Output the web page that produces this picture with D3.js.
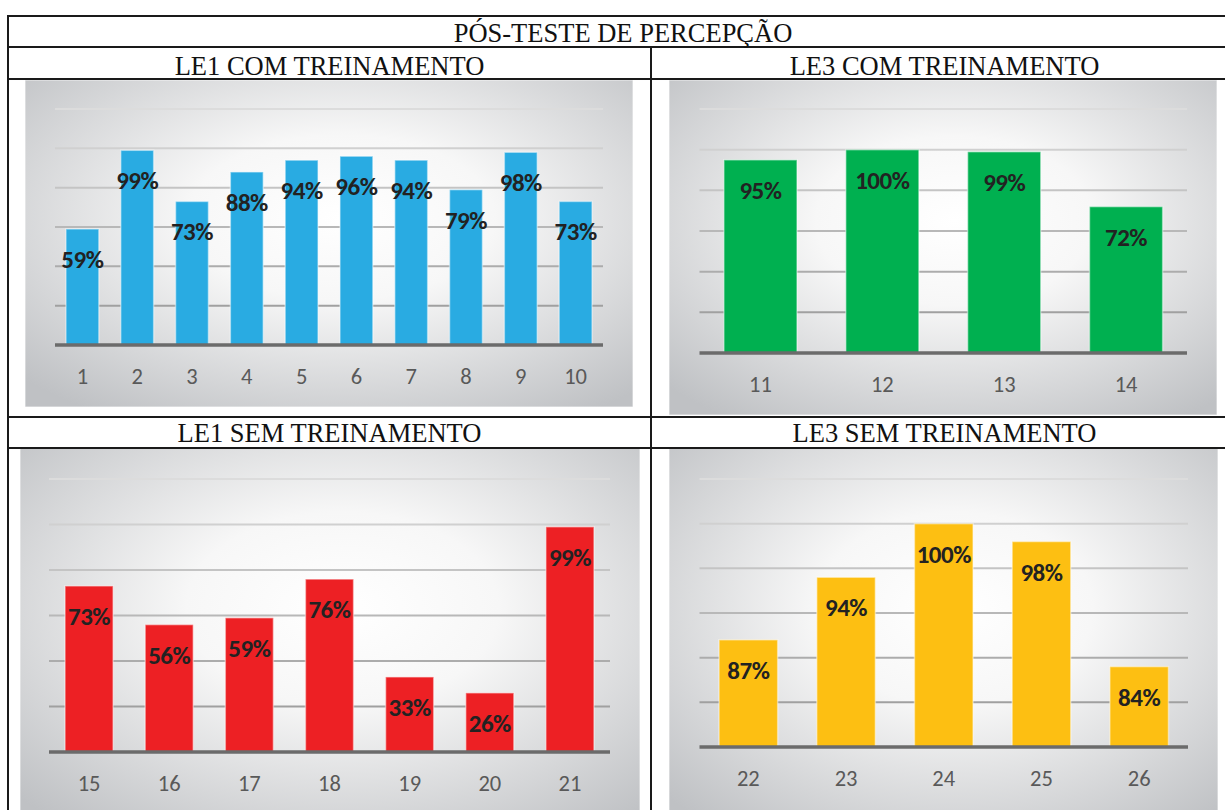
<!DOCTYPE html>
<html lang="pt">
<head>
<meta charset="utf-8">
<title>Pós-teste de percepção</title>
<script src="https://cdn.jsdelivr.net/npm/d3@7"></script>
<style>
  html, body { margin: 0; padding: 0; background: #fff; }
  svg { display: block; }
</style>
</head>
<body>
<svg id="chart" width="1225" height="810"></svg>
<script>
// ---- data ----
const tableTitle = "PÓS-TESTE DE PERCEPÇÃO";
const panelTitles = ["LE1 COM TREINAMENTO", "LE3 COM TREINAMENTO", "LE1 SEM TREINAMENTO", "LE3 SEM TREINAMENTO"];

const le1ComItems = ["1", "2", "3", "4", "5", "6", "7", "8", "9", "10"];
const le1ComValues = [59, 99, 73, 88, 94, 96, 94, 79, 98, 73];

const le3ComItems = ["11", "12", "13", "14"];
const le3ComValues = [95, 100, 99, 72];

const le1SemItems = ["15", "16", "17", "18", "19", "20", "21"];
const le1SemValues = [73, 56, 59, 76, 33, 26, 99];

const le3SemItems = ["22", "23", "24", "25", "26"];
const le3SemValues = [87, 94, 100, 98, 84];

// value axis ranges (percent) and gridline step for each panel
const axisMin = [0, 0, 0, 75];
const axisMax = [120, 120, 120, 105];
const axisStep = [20, 20, 20, 5];

// ---- layout ----
const svg = d3.select("#chart");
const serif = "'Liberation Serif', 'Times New Roman', serif";
const sans = "Carlito, Calibri, Lato, sans-serif";

const table = { left: 8, right: 1238, mid: 651, rows: [16, 47, 79, 417, 448], bottom: 830 };

const panels = [
  { items: le1ComItems, values: le1ComValues, color: "#29ABE2",
    bg: [25, 80, 633, 407], plot: [55, 603, 109, 345] },
  { items: le3ComItems, values: le3ComValues, color: "#00B050",
    bg: [669, 80, 1217, 415], plot: [699.5, 1187, 109, 353] },
  { items: le1SemItems, values: le1SemValues, color: "#ED2024",
    bg: [20, 448, 640, 830], plot: [49, 610, 479, 752] },
  { items: le3SemItems, values: le3SemValues, color: "#FDBF12",
    bg: [669, 448, 1218, 830], plot: [699.5, 1188, 479, 747] }
];

// ---- shared background gradient ----
const defs = svg.append("defs");
const grad = defs.append("radialGradient")
  .attr("id", "plotBg").attr("cx", "52%").attr("cy", "42%").attr("r", "72%");
grad.append("stop").attr("offset", "0%").attr("stop-color", "#ffffff");
grad.append("stop").attr("offset", "35%").attr("stop-color", "#f7f7f7");
grad.append("stop").attr("offset", "100%").attr("stop-color", "#bfc1c4");

// ---- charts ----
panels.forEach((p, i) => {
  const g = svg.append("g").attr("class", "panel panel-" + (i + 1));
  const [bx0, by0, bx1, by1] = p.bg;
  g.append("rect")
    .attr("x", bx0).attr("y", by0)
    .attr("width", bx1 - bx0).attr("height", by1 - by0)
    .attr("fill", "url(#plotBg)")
    .attr("stroke", "rgba(255,255,255,0.7)").attr("stroke-width", 1);

  const [px0, px1, py0, py1] = p.plot;
  const x = d3.scaleBand().domain(p.items).range([px0, px1])
    .paddingInner(0.4).paddingOuter(0.2);
  const y = d3.scaleLinear().domain([axisMin[i], axisMax[i]]).range([py1, py0]);

  // gridlines, fading toward the top
  const ticks = d3.range(axisMin[i] + axisStep[i], axisMax[i] + axisStep[i] / 2, axisStep[i]);
  const shade = d3.scaleLinear().domain([axisMin[i], axisMax[i]])
    .range(["#949494", "#dcdcdc"]).interpolate(d3.interpolateRgb);
  g.append("g").attr("class", "grid")
    .selectAll("line").data(ticks).join("line")
    .attr("x1", px0).attr("x2", px1)
    .attr("y1", d => y(d)).attr("y2", d => y(d))
    .attr("stroke", d => shade(d)).attr("stroke-width", 2);

  // bars
  g.append("g").attr("class", "bars")
    .selectAll("rect").data(p.values).join("rect")
    .attr("x", (d, j) => x(p.items[j]))
    .attr("y", d => y(d))
    .attr("width", x.bandwidth())
    .attr("height", d => y(axisMin[i]) - y(d))
    .attr("fill", p.color)
    .attr("stroke", "rgba(255,255,255,0.45)").attr("stroke-width", 1.5);

  // value labels inside the top of each bar
  g.append("g").attr("class", "values")
    .selectAll("text").data(p.values).join("text")
    .attr("x", (d, j) => x(p.items[j]) + x.bandwidth() / 2)
    .attr("y", d => y(d) + 39)
    .attr("text-anchor", "middle")
    .attr("font-family", sans).attr("font-weight", 900)
    .attr("font-size", 25).attr("fill", "#222")
    .attr("letter-spacing", -0.5)
    .text(d => d + "%");

  // category axis
  const axis = d3.axisBottom(x).tickSize(0).tickPadding(0);
  const ax = g.append("g").attr("class", "x-axis")
    .attr("transform", `translate(0,${py1})`).call(axis);
  ax.select(".domain")
    .attr("d", `M${px0},0H${px1}`)
    .attr("stroke", "#6b6b6b").attr("stroke-width", 3.5);
  ax.selectAll(".tick text")
    .attr("y", 39).attr("dy", null)
    .attr("font-family", sans).attr("font-size", 22.5)
    .attr("fill", "#595959");
});

// ---- table frame ----
const frame = svg.append("g").attr("class", "frame")
  .attr("stroke", "#1a1a1a").attr("stroke-width", 2);
table.rows.forEach(ry => {
  frame.append("line").attr("x1", table.left - 1).attr("x2", table.right)
    .attr("y1", ry).attr("y2", ry);
});
frame.append("line").attr("x1", table.left).attr("x2", table.left)
  .attr("y1", table.rows[0] - 1).attr("y2", table.bottom);
frame.append("line").attr("x1", table.mid).attr("x2", table.mid)
  .attr("y1", table.rows[1]).attr("y2", table.bottom);

// ---- table headings ----
svg.append("text")
  .attr("x", (table.left + table.right) / 2).attr("y", 42.3)
  .attr("text-anchor", "middle")
  .attr("font-family", serif).attr("font-size", 26.5).attr("fill", "#111")
  .text(tableTitle);

const colCenters = [(table.left + table.mid) / 2, (table.mid + table.right) / 2];
const headBaselines = [75.3, 442];
panelTitles.forEach((t, i) => {
  svg.append("text")
    .attr("x", colCenters[i % 2]).attr("y", headBaselines[Math.floor(i / 2)])
    .attr("text-anchor", "middle")
    .attr("font-family", serif).attr("font-size", 26.5).attr("fill", "#111")
    .text(t);
});
</script>
</body>
</html>
